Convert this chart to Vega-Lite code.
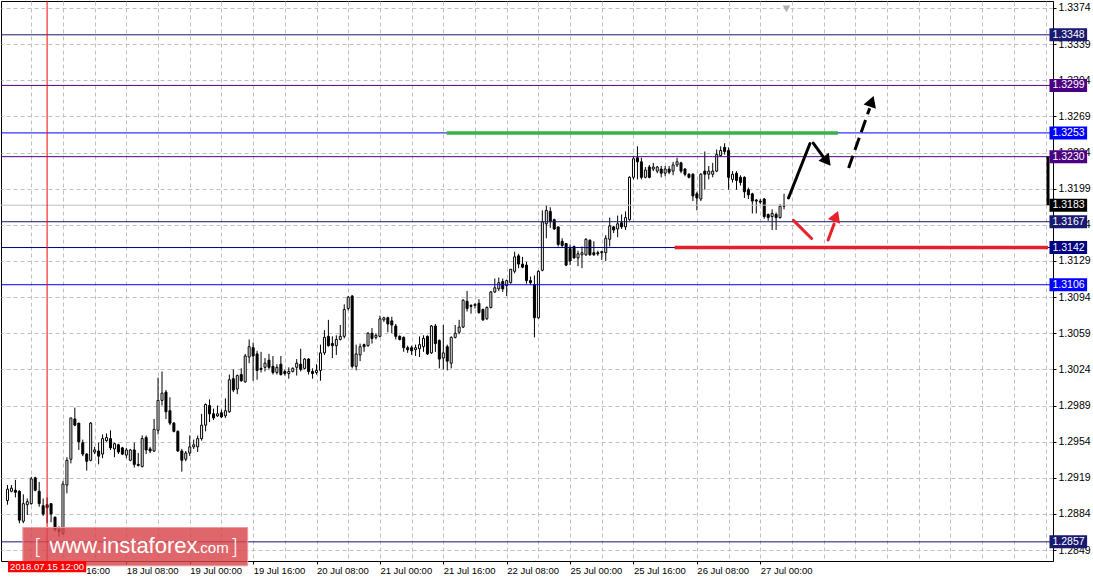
{
"$schema":"https://vega.github.io/schema/vega-lite/v6.json",
"width":1052,"height":560,"padding":0,"autosize":{"type":"pad"},"background":"white",
"config":{"view":{"stroke":"black","strokeWidth":1},"font":"Liberation Sans"},
"resolve":{"scale":{"color":"independent"}},
"datasets":{
"candles":[
{"i":0,"o":1.2897,"h":1.2912,"l":1.2893,"c":1.2908},{"i":1,"o":1.2906,"h":1.2912,"l":1.2905,"c":1.2909},{"i":2,"o":1.2907,"h":1.2917,"l":1.29,"c":1.2905},{"i":3,"o":1.2906,"h":1.2907,"l":1.2875,"c":1.2878},{"i":4,"o":1.2877,"h":1.2903,"l":1.2875,"c":1.2894},{"i":5,"o":1.2893,"h":1.2899,"l":1.2883,"c":1.2896},{"i":6,"o":1.2894,"h":1.292,"l":1.2893,"c":1.2918},{"i":7,"o":1.2919,"h":1.292,"l":1.2906,"c":1.2907},{"i":8,"o":1.2906,"h":1.2915,"l":1.2891,"c":1.2894},{"i":9,"o":1.2892,"h":1.2899,"l":1.2882,"c":1.2884},
{"i":10,"o":1.2893,"h":1.29,"l":1.2875,"c":1.289},{"i":11,"o":1.2894,"h":1.2894,"l":1.2876,"c":1.2884},{"i":12,"o":1.2881,"h":1.2881,"l":1.2867,"c":1.2869},{"i":13,"o":1.2869,"h":1.2872,"l":1.2862,"c":1.2867},{"i":14,"o":1.2865,"h":1.2916,"l":1.2864,"c":1.2913},{"i":15,"o":1.2912,"h":1.2939,"l":1.2904,"c":1.2936},{"i":16,"o":1.2937,"h":1.2977,"l":1.2933,"c":1.2977},{"i":17,"o":1.2976,"h":1.2987,"l":1.2969,"c":1.297},{"i":18,"o":1.2972,"h":1.2972,"l":1.2946,"c":1.2954},{"i":19,"o":1.2953,"h":1.2956,"l":1.294,"c":1.2942},
{"i":20,"o":1.2942,"h":1.2943,"l":1.2926,"c":1.2935},{"i":21,"o":1.2936,"h":1.2973,"l":1.2935,"c":1.2972},{"i":22,"o":1.2944,"h":1.2949,"l":1.2942,"c":1.2946},{"i":23,"o":1.2945,"h":1.2953,"l":1.2932,"c":1.294},{"i":24,"o":1.2942,"h":1.2961,"l":1.2938,"c":1.2957},{"i":25,"o":1.2955,"h":1.2962,"l":1.2954,"c":1.2958},{"i":26,"o":1.2957,"h":1.2965,"l":1.2946,"c":1.2948},{"i":27,"o":1.2947,"h":1.2953,"l":1.2939,"c":1.2952},{"i":28,"o":1.2951,"h":1.2952,"l":1.2942,"c":1.2944},{"i":29,"o":1.2948,"h":1.2949,"l":1.2941,"c":1.2942},
{"i":30,"o":1.2941,"h":1.2948,"l":1.2938,"c":1.2946},{"i":31,"o":1.2936,"h":1.2947,"l":1.2935,"c":1.2946},{"i":32,"o":1.2946,"h":1.2953,"l":1.2929,"c":1.2932},{"i":33,"o":1.2932,"h":1.2943,"l":1.293,"c":1.2931},{"i":34,"o":1.293,"h":1.296,"l":1.2929,"c":1.2957},{"i":35,"o":1.2958,"h":1.296,"l":1.2942,"c":1.2946},{"i":36,"o":1.2947,"h":1.2949,"l":1.2943,"c":1.2945},{"i":37,"o":1.2945,"h":1.2976,"l":1.2944,"c":1.2966},{"i":38,"o":1.2965,"h":1.3016,"l":1.2961,"c":1.2994},{"i":39,"o":1.2994,"h":1.3022,"l":1.2989,"c":1.3001},
{"i":40,"o":1.3002,"h":1.3004,"l":1.2976,"c":1.2983},{"i":41,"o":1.2984,"h":1.2997,"l":1.297,"c":1.2972},{"i":42,"o":1.2972,"h":1.2973,"l":1.2963,"c":1.2964},{"i":43,"o":1.2964,"h":1.2965,"l":1.2944,"c":1.2945},{"i":44,"o":1.2945,"h":1.2947,"l":1.2925,"c":1.2936},{"i":45,"o":1.2937,"h":1.2945,"l":1.2935,"c":1.2943},{"i":46,"o":1.2943,"h":1.296,"l":1.294,"c":1.2949},{"i":47,"o":1.2949,"h":1.2956,"l":1.2947,"c":1.2951},{"i":48,"o":1.2949,"h":1.296,"l":1.2944,"c":1.2957},{"i":49,"o":1.2957,"h":1.2981,"l":1.2955,"c":1.297},
{"i":50,"o":1.297,"h":1.2991,"l":1.2964,"c":1.299},{"i":51,"o":1.2989,"h":1.2995,"l":1.2973,"c":1.2981},{"i":52,"o":1.2981,"h":1.2986,"l":1.2975,"c":1.2977},{"i":53,"o":1.2979,"h":1.2989,"l":1.2978,"c":1.2981},{"i":54,"o":1.2982,"h":1.2985,"l":1.2977,"c":1.2978},{"i":55,"o":1.2979,"h":1.2996,"l":1.2977,"c":1.2984},{"i":56,"o":1.2983,"h":1.3019,"l":1.2982,"c":1.3014},{"i":57,"o":1.3015,"h":1.3024,"l":1.3002,"c":1.3004},{"i":58,"o":1.3005,"h":1.3019,"l":1.3,"c":1.3018},{"i":59,"o":1.3019,"h":1.3025,"l":1.3012,"c":1.3013},
{"i":60,"o":1.3012,"h":1.3039,"l":1.3011,"c":1.3037},{"i":61,"o":1.3036,"h":1.3053,"l":1.303,"c":1.3046},{"i":62,"o":1.3045,"h":1.305,"l":1.3013,"c":1.3037},{"i":63,"o":1.3039,"h":1.3042,"l":1.3014,"c":1.3023},{"i":64,"o":1.3025,"h":1.3041,"l":1.3021,"c":1.3024},{"i":65,"o":1.3026,"h":1.3035,"l":1.3022,"c":1.303},{"i":66,"o":1.3033,"h":1.3039,"l":1.3024,"c":1.3026},{"i":67,"o":1.3027,"h":1.3037,"l":1.3019,"c":1.3021},{"i":68,"o":1.3021,"h":1.3029,"l":1.3019,"c":1.3026},{"i":69,"o":1.3029,"h":1.3037,"l":1.3018,"c":1.3019},
{"i":70,"o":1.3022,"h":1.3024,"l":1.3018,"c":1.302},{"i":71,"o":1.302,"h":1.3026,"l":1.3015,"c":1.3022},{"i":72,"o":1.3022,"h":1.3026,"l":1.3021,"c":1.3025},{"i":73,"o":1.3026,"h":1.3034,"l":1.3018,"c":1.303},{"i":74,"o":1.3029,"h":1.3044,"l":1.3022,"c":1.3024},{"i":75,"o":1.3025,"h":1.3035,"l":1.3024,"c":1.3034},{"i":76,"o":1.3034,"h":1.3035,"l":1.3019,"c":1.3022},{"i":77,"o":1.3022,"h":1.3025,"l":1.3015,"c":1.302},{"i":78,"o":1.3021,"h":1.3029,"l":1.3019,"c":1.3023},{"i":79,"o":1.3023,"h":1.3048,"l":1.3013,"c":1.304},
{"i":80,"o":1.304,"h":1.3062,"l":1.3038,"c":1.3055},{"i":81,"o":1.3056,"h":1.3072,"l":1.3046,"c":1.3047},{"i":82,"o":1.3049,"h":1.3056,"l":1.3035,"c":1.3047},{"i":83,"o":1.3047,"h":1.3057,"l":1.3038,"c":1.3053},{"i":84,"o":1.3053,"h":1.3067,"l":1.3052,"c":1.3056},{"i":85,"o":1.3056,"h":1.3087,"l":1.3054,"c":1.3082},{"i":86,"o":1.3083,"h":1.3095,"l":1.3081,"c":1.3094},{"i":87,"o":1.3095,"h":1.3096,"l":1.3025,"c":1.3027},{"i":88,"o":1.3027,"h":1.3048,"l":1.3023,"c":1.3039},{"i":89,"o":1.3038,"h":1.3049,"l":1.3032,"c":1.3046},
{"i":90,"o":1.3048,"h":1.3049,"l":1.3041,"c":1.3046},{"i":91,"o":1.3047,"h":1.306,"l":1.3046,"c":1.3059},{"i":92,"o":1.3059,"h":1.3064,"l":1.3049,"c":1.3054},{"i":93,"o":1.3055,"h":1.3059,"l":1.3053,"c":1.3057},{"i":94,"o":1.3056,"h":1.3076,"l":1.3055,"c":1.3073},{"i":95,"o":1.3072,"h":1.3075,"l":1.307,"c":1.3074},{"i":96,"o":1.3074,"h":1.3075,"l":1.306,"c":1.3068},{"i":97,"o":1.3071,"h":1.3075,"l":1.3059,"c":1.3067},{"i":98,"o":1.3066,"h":1.3068,"l":1.3053,"c":1.3056},{"i":99,"o":1.3056,"h":1.3057,"l":1.3052,"c":1.3053},
{"i":100,"o":1.3055,"h":1.3056,"l":1.3041,"c":1.3045},{"i":101,"o":1.3045,"h":1.3047,"l":1.304,"c":1.3043},{"i":102,"o":1.3045,"h":1.3047,"l":1.3038,"c":1.3042},{"i":103,"o":1.3043,"h":1.3048,"l":1.3037,"c":1.3045},{"i":104,"o":1.3044,"h":1.3056,"l":1.3036,"c":1.3048},{"i":105,"o":1.3046,"h":1.3057,"l":1.3041,"c":1.3054},{"i":106,"o":1.3056,"h":1.3057,"l":1.3038,"c":1.3039},{"i":107,"o":1.304,"h":1.3067,"l":1.3039,"c":1.3066},{"i":108,"o":1.3066,"h":1.3068,"l":1.3041,"c":1.3049},{"i":109,"o":1.3052,"h":1.3053,"l":1.3025,"c":1.3034},
{"i":110,"o":1.3035,"h":1.3067,"l":1.3024,"c":1.304},{"i":111,"o":1.3046,"h":1.3048,"l":1.3023,"c":1.3032},{"i":112,"o":1.303,"h":1.3056,"l":1.3025,"c":1.3055},{"i":113,"o":1.3055,"h":1.3067,"l":1.3054,"c":1.3059},{"i":114,"o":1.306,"h":1.3072,"l":1.3058,"c":1.3065},{"i":115,"o":1.3065,"h":1.3092,"l":1.3064,"c":1.3091},{"i":116,"o":1.309,"h":1.31,"l":1.308,"c":1.3083},{"i":117,"o":1.3086,"h":1.3087,"l":1.3078,"c":1.3085},{"i":118,"o":1.3086,"h":1.3088,"l":1.3083,"c":1.3087},{"i":119,"o":1.3088,"h":1.3092,"l":1.3078,"c":1.3079},
{"i":120,"o":1.3082,"h":1.3083,"l":1.3071,"c":1.3072},{"i":121,"o":1.3073,"h":1.3085,"l":1.3072,"c":1.3084},{"i":122,"o":1.3084,"h":1.31,"l":1.3083,"c":1.3099},{"i":123,"o":1.3099,"h":1.3112,"l":1.3098,"c":1.3103},{"i":124,"o":1.3102,"h":1.3113,"l":1.31,"c":1.3108},{"i":125,"o":1.3109,"h":1.3112,"l":1.3099,"c":1.3102},{"i":126,"o":1.3105,"h":1.3111,"l":1.3095,"c":1.311},{"i":127,"o":1.3108,"h":1.3121,"l":1.3107,"c":1.3121},{"i":128,"o":1.3119,"h":1.3138,"l":1.3117,"c":1.3133},{"i":129,"o":1.3134,"h":1.3136,"l":1.3122,"c":1.3126},
{"i":130,"o":1.3126,"h":1.3133,"l":1.3122,"c":1.3123},{"i":131,"o":1.3125,"h":1.3128,"l":1.3107,"c":1.311},{"i":132,"o":1.311,"h":1.3114,"l":1.3106,"c":1.3108},{"i":133,"o":1.3106,"h":1.3115,"l":1.3055,"c":1.3074},{"i":134,"o":1.3074,"h":1.312,"l":1.3073,"c":1.3119},{"i":135,"o":1.312,"h":1.3178,"l":1.3119,"c":1.3167},{"i":136,"o":1.3165,"h":1.3183,"l":1.3151,"c":1.3178},{"i":137,"o":1.3177,"h":1.3181,"l":1.3161,"c":1.3167},{"i":138,"o":1.3169,"h":1.317,"l":1.3159,"c":1.316},{"i":139,"o":1.3162,"h":1.3162,"l":1.3143,"c":1.3145},
{"i":140,"o":1.3148,"h":1.3151,"l":1.3142,"c":1.3144},{"i":141,"o":1.3146,"h":1.3146,"l":1.3124,"c":1.3125},{"i":142,"o":1.3141,"h":1.3145,"l":1.3125,"c":1.3129},{"i":143,"o":1.3143,"h":1.3144,"l":1.3131,"c":1.3132},{"i":144,"o":1.3132,"h":1.3139,"l":1.3124,"c":1.3136},{"i":145,"o":1.3135,"h":1.3143,"l":1.3122,"c":1.3137},{"i":146,"o":1.3135,"h":1.3151,"l":1.3134,"c":1.315},{"i":147,"o":1.3149,"h":1.315,"l":1.3134,"c":1.3135},{"i":148,"o":1.3137,"h":1.3148,"l":1.3134,"c":1.3135},{"i":149,"o":1.3137,"h":1.3139,"l":1.3134,"c":1.3136},
{"i":150,"o":1.3138,"h":1.3139,"l":1.313,"c":1.3137},{"i":151,"o":1.3137,"h":1.3154,"l":1.3129,"c":1.3151},{"i":152,"o":1.315,"h":1.3171,"l":1.3143,"c":1.3163},{"i":153,"o":1.3162,"h":1.3163,"l":1.3156,"c":1.3159},{"i":154,"o":1.316,"h":1.3173,"l":1.3152,"c":1.3165},{"i":155,"o":1.3166,"h":1.3174,"l":1.316,"c":1.3162},{"i":156,"o":1.3162,"h":1.3177,"l":1.3159,"c":1.3171},{"i":157,"o":1.3169,"h":1.3211,"l":1.3168,"c":1.321},{"i":158,"o":1.321,"h":1.323,"l":1.3208,"c":1.3228},{"i":159,"o":1.3229,"h":1.324,"l":1.3208,"c":1.3225},
{"i":160,"o":1.3225,"h":1.3229,"l":1.3208,"c":1.321},{"i":161,"o":1.321,"h":1.322,"l":1.3209,"c":1.3217},{"i":162,"o":1.322,"h":1.3222,"l":1.3209,"c":1.321},{"i":163,"o":1.3218,"h":1.3224,"l":1.3216,"c":1.322},{"i":164,"o":1.3216,"h":1.3221,"l":1.3214,"c":1.322},{"i":165,"o":1.3218,"h":1.3221,"l":1.321,"c":1.3214},{"i":166,"o":1.3214,"h":1.3221,"l":1.3211,"c":1.3218},{"i":167,"o":1.3218,"h":1.3221,"l":1.3213,"c":1.3215},{"i":168,"o":1.3216,"h":1.3225,"l":1.3212,"c":1.3222},{"i":169,"o":1.3222,"h":1.3229,"l":1.322,"c":1.3225},
{"i":170,"o":1.3224,"h":1.3225,"l":1.3214,"c":1.3216},{"i":171,"o":1.3218,"h":1.3219,"l":1.3211,"c":1.3213},{"i":172,"o":1.3213,"h":1.3214,"l":1.3209,"c":1.321},{"i":173,"o":1.3213,"h":1.3214,"l":1.3187,"c":1.3192},{"i":174,"o":1.3194,"h":1.3196,"l":1.3178,"c":1.319},{"i":175,"o":1.3189,"h":1.3214,"l":1.3187,"c":1.3213},{"i":176,"o":1.3216,"h":1.3235,"l":1.3198,"c":1.3213},{"i":177,"o":1.3213,"h":1.3221,"l":1.3208,"c":1.3216},{"i":178,"o":1.3213,"h":1.3224,"l":1.321,"c":1.3216},{"i":179,"o":1.3216,"h":1.3237,"l":1.3215,"c":1.3232},
{"i":180,"o":1.3231,"h":1.324,"l":1.323,"c":1.3236},{"i":181,"o":1.3239,"h":1.3243,"l":1.3232,"c":1.3235},{"i":182,"o":1.3236,"h":1.3239,"l":1.3198,"c":1.321},{"i":183,"o":1.3208,"h":1.3216,"l":1.3205,"c":1.3213},{"i":184,"o":1.3214,"h":1.3216,"l":1.3198,"c":1.3207},{"i":185,"o":1.321,"h":1.3212,"l":1.3202,"c":1.3205},{"i":186,"o":1.321,"h":1.3211,"l":1.319,"c":1.3196},{"i":187,"o":1.3198,"h":1.32,"l":1.3189,"c":1.3193},{"i":188,"o":1.3194,"h":1.3195,"l":1.3175,"c":1.3187},{"i":189,"o":1.3188,"h":1.3189,"l":1.3175,"c":1.3187},
{"i":190,"o":1.3187,"h":1.3189,"l":1.3184,"c":1.3186},{"i":191,"o":1.3189,"h":1.319,"l":1.317,"c":1.3172},{"i":192,"o":1.3174,"h":1.3175,"l":1.3168,"c":1.3171},{"i":193,"o":1.3172,"h":1.3179,"l":1.3159,"c":1.3175},{"i":194,"o":1.3174,"h":1.3176,"l":1.3159,"c":1.3171},{"i":195,"o":1.3171,"h":1.3184,"l":1.317,"c":1.3182},{"i":196,"o":1.3182,"h":1.3194,"l":1.3179,"c":1.3183}
],
"levels":[{"price":1.3348},{"price":1.3299},{"price":1.3253},{"price":1.323},{"price":1.3167},{"price":1.3142},{"price":1.3106},{"price":1.2857}],
"current":[{"price":1.3183}],
"zones":[{"x1":110.875,"x2":209.625,"price":1.3253,"kind":"resistance"},{"x1":168.375,"x2":262.625,"price":1.3142,"kind":"support"}],
"blackSegs":[{"x1":197.125,"y1":1.319,"x2":202.55,"y2":1.32427},{"x1":203.375,"y1":1.32432,"x2":206.125,"y2":1.32285}],
"blackDash":[{"x1":212.3,"y1":1.3219,"x2":217.625,"y2":1.3277}],
"redSegs":[{"x1":198.375,"y1":1.31683,"x2":202.95,"y2":1.31508},{"x1":207.125,"y1":1.31493,"x2":208.625,"y2":1.31648}]
},
"layer":[
{"data":{"name":"candles"},"mark":{"type":"rule","color":"black","strokeWidth":1},
 "encoding":{
  "x":{"field":"i","type":"quantitative","title":null,"scale":{"domain":[-0.375,262.625],"nice":false,"zero":false},
   "axis":{"orient":"bottom","title":null,"tickCount":200,"values":[6,14,19.75,22,30,38,46,54,62,70,78,86,94,102,110,118,126,134,142,150,158,166,174,182,190,198,206,214,222,230,238,246,254,262],
    "grid":true,"gridColor":"#c0c0c0","gridDash":[4,3],"gridWidth":1,"gridOpacity":{"condition":{"test":"datum.value === 19.75","value":0},"value":1},"domain":false,
    "tickSize":3,"tickColor":"black","tickOpacity":{"condition":{"test":"(datum.value - 14) % 16 === 0 && datum.value <= 190","value":1},"value":0},
    "labelExpr":"datum.value === 19.75 ? '16:00' : datum.value === 30 ? '18 Jul 08:00' : datum.value === 46 ? '19 Jul 00:00' : datum.value === 62 ? '19 Jul 16:00' : datum.value === 78 ? '20 Jul 08:00' : datum.value === 94 ? '21 Jul 00:00' : datum.value === 110 ? '21 Jul 16:00' : datum.value === 126 ? '22 Jul 08:00' : datum.value === 142 ? '25 Jul 00:00' : datum.value === 158 ? '25 Jul 16:00' : datum.value === 174 ? '26 Jul 08:00' : datum.value === 190 ? '27 Jul 00:00' : ''",
    "labelAlign":"left","labelBaseline":"top","labelPadding":1,"labelFontSize":9.5,"labelFont":"Liberation Sans","labelColor":"black","labelOverlap":false,"labelFlush":false}},
  "y":{"field":"l","type":"quantitative","title":null,"scale":{"domain":[1.28433,1.33759],"nice":false,"zero":false},
   "axis":{"orient":"right","title":null,"tickCount":200,"values":[1.2849,1.2884,1.2919,1.2954,1.2989,1.3024,1.3059,1.3094,1.3129,1.3164,1.3199,1.3234,1.3269,1.3304,1.3339,1.3374],
    "format":".4f","grid":true,"gridColor":"#c0c0c0","gridDash":[4,3],"gridWidth":1,"domain":true,"domainColor":"black",
    "tickSize":3,"tickColor":"black","labelPadding":2,"labelFontSize":10.5,"labelFont":"Liberation Sans","labelColor":"black","labelOverlap":false,"labelFlush":false}},
  "y2":{"field":"h"}}},
{"data":{"name":"candles"},"mark":{"type":"bar","width":2,"stroke":"black","strokeWidth":1},
 "encoding":{
  "x":{"field":"i","type":"quantitative","title":null,"scale":{"domain":[-0.375,262.625],"nice":false,"zero":false}},
  "y":{"field":"o","type":"quantitative","title":null,"scale":{"domain":[1.28433,1.33759],"nice":false,"zero":false}},
  "y2":{"field":"c"},
  "fill":{"condition":{"test":"datum.c >= datum.o","value":"white"},"value":"black"}}},
{"data":{"name":"levels"},"mark":{"type":"rule","strokeWidth":1},
 "encoding":{
  "y":{"field":"price","type":"quantitative","title":null,"scale":{"domain":[1.28433,1.33759],"nice":false,"zero":false}},
  "color":{"field":"price","type":"nominal","legend":null,"scale":{"domain":[1.3348,1.3299,1.3253,1.323,1.3167,1.3142,1.3106,1.2857],"range":["#191970","#4b0082","#0000ff","#4b0082","#191970","#000080","#0000ff","#191970"]}}}},
{"data":{"name":"current"},"mark":{"type":"rule","strokeWidth":1,"color":"#c0c0c0"},
 "encoding":{"y":{"field":"price","type":"quantitative","title":null,"scale":{"domain":[1.28433,1.33759],"nice":false,"zero":false}}}},
{"data":{"name":"zones"},"mark":{"type":"rule","strokeWidth":3.5},
 "encoding":{
  "x":{"field":"x1","type":"quantitative","title":null,"scale":{"domain":[-0.375,262.625],"nice":false,"zero":false}},
  "x2":{"field":"x2"},
  "y":{"field":"price","type":"quantitative","title":null,"scale":{"domain":[1.28433,1.33759],"nice":false,"zero":false}},
  "color":{"field":"kind","type":"nominal","legend":null,"scale":{"domain":["resistance","support"],"range":["#35b24a","#e3202c"]}}}},
{"data":{"name":"blackSegs"},"mark":{"type":"rule","strokeWidth":3,"color":"black","strokeCap":"round"},
 "encoding":{
  "x":{"field":"x1","type":"quantitative","title":null,"scale":{"domain":[-0.375,262.625],"nice":false,"zero":false}},
  "x2":{"field":"x2"},
  "y":{"field":"y1","type":"quantitative","title":null,"scale":{"domain":[1.28433,1.33759],"nice":false,"zero":false}},
  "y2":{"field":"y2"}}},
{"data":{"name":"blackDash"},"mark":{"type":"rule","strokeWidth":3,"color":"black","strokeDash":[13,6]},
 "encoding":{
  "x":{"field":"x1","type":"quantitative","title":null,"scale":{"domain":[-0.375,262.625],"nice":false,"zero":false}},
  "x2":{"field":"x2"},
  "y":{"field":"y1","type":"quantitative","title":null,"scale":{"domain":[1.28433,1.33759],"nice":false,"zero":false}},
  "y2":{"field":"y2"}}},
{"data":{"name":"redSegs"},"mark":{"type":"rule","strokeWidth":3,"color":"#e8202a","strokeCap":"round"},
 "encoding":{
  "x":{"field":"x1","type":"quantitative","title":null,"scale":{"domain":[-0.375,262.625],"nice":false,"zero":false}},
  "x2":{"field":"x2"},
  "y":{"field":"y1","type":"quantitative","title":null,"scale":{"domain":[1.28433,1.33759],"nice":false,"zero":false}},
  "y2":{"field":"y2"}}},
{"data":{"values":[{"x":206.875,"y":1.32256}]},"mark":{"type":"point","shape":"triangle-up","filled":true,"size":170,"angle":142,"color":"black","opacity":1},
 "encoding":{"x":{"field":"x","type":"quantitative","title":null,"scale":{"domain":[-0.375,262.625],"nice":false,"zero":false}},"y":{"field":"y","type":"quantitative","title":null,"scale":{"domain":[1.28433,1.33759],"nice":false,"zero":false}}}},
{"data":{"values":[{"x":218.125,"y":1.32836}]},"mark":{"type":"point","shape":"triangle-up","filled":true,"size":170,"angle":20,"color":"black","opacity":1},
 "encoding":{"x":{"field":"x","type":"quantitative","title":null,"scale":{"domain":[-0.375,262.625],"nice":false,"zero":false}},"y":{"field":"y","type":"quantitative","title":null,"scale":{"domain":[1.28433,1.33759],"nice":false,"zero":false}}}},
{"data":{"values":[{"x":209.125,"y":1.31724}]},"mark":{"type":"point","shape":"triangle-up","filled":true,"size":170,"angle":21,"color":"#e8202a","opacity":1},
 "encoding":{"x":{"field":"x","type":"quantitative","title":null,"scale":{"domain":[-0.375,262.625],"nice":false,"zero":false}},"y":{"field":"y","type":"quantitative","title":null,"scale":{"domain":[1.28433,1.33759],"nice":false,"zero":false}}}},
{"data":{"values":[{"x":196.625,"y":1.33731}]},"mark":{"type":"point","shape":"triangle-down","filled":true,"size":60,"color":"#b0b0b0","opacity":1},
 "encoding":{"x":{"field":"x","type":"quantitative","title":null,"scale":{"domain":[-0.375,262.625],"nice":false,"zero":false}},"y":{"field":"y","type":"quantitative","title":null,"scale":{"domain":[1.28433,1.33759],"nice":false,"zero":false}}}},
{"data":{"values":[{"x":10}]},"mark":{"type":"rule","color":"#ff0000","strokeWidth":1},
 "encoding":{"x":{"field":"x","type":"quantitative","title":null,"scale":{"domain":[-0.375,262.625],"nice":false,"zero":false}}}},
{"data":{"values":[{"y1":1.323,"y2":1.3183}]},"mark":{"type":"rule","color":"black","strokeWidth":3,"clip":false},
 "encoding":{"x":{"datum":262.625,"type":"quantitative","scale":{"domain":[-0.375,262.625],"nice":false,"zero":false}},
  "y":{"field":"y1","type":"quantitative","title":null,"scale":{"domain":[1.28433,1.33759],"nice":false,"zero":false}},"y2":{"field":"y2"}}},
{"data":{"name":"levels"},"mark":{"type":"bar","orient":"horizontal","height":13,"clip":false},
 "encoding":{
  "x":{"datum":263,"type":"quantitative","scale":{"domain":[-0.375,262.625],"nice":false,"zero":false}},
  "x2":{"datum":272.5},
  "y":{"field":"price","type":"quantitative","title":null,"scale":{"domain":[1.28433,1.33759],"nice":false,"zero":false}},
  "color":{"field":"price","type":"nominal","legend":null,"scale":{"domain":[1.3348,1.3299,1.3253,1.323,1.3167,1.3142,1.3106,1.2857],"range":["#191970","#4b0082","#0000ff","#4b0082","#191970","#000080","#0000ff","#191970"]}}}},
{"data":{"name":"current"},"mark":{"type":"bar","orient":"horizontal","height":13,"clip":false,"color":"black"},
 "encoding":{
  "x":{"datum":263,"type":"quantitative","scale":{"domain":[-0.375,262.625],"nice":false,"zero":false}},
  "x2":{"datum":272.5},
  "y":{"field":"price","type":"quantitative","title":null,"scale":{"domain":[1.28433,1.33759],"nice":false,"zero":false}}}},
{"data":{"name":"levels"},"mark":{"type":"text","align":"left","baseline":"middle","color":"white","fontSize":10.5,"font":"Liberation Sans","clip":false},
 "encoding":{
  "x":{"datum":263.75,"type":"quantitative","scale":{"domain":[-0.375,262.625],"nice":false,"zero":false}},
  "y":{"field":"price","type":"quantitative","title":null,"scale":{"domain":[1.28433,1.33759],"nice":false,"zero":false}},
  "text":{"field":"price","type":"quantitative","format":".4f"}}},
{"data":{"name":"current"},"mark":{"type":"text","align":"left","baseline":"middle","color":"white","fontSize":10.5,"font":"Liberation Sans","clip":false},
 "encoding":{
  "x":{"datum":263.75,"type":"quantitative","scale":{"domain":[-0.375,262.625],"nice":false,"zero":false}},
  "y":{"field":"price","type":"quantitative","title":null,"scale":{"domain":[1.28433,1.33759],"nice":false,"zero":false}},
  "text":{"field":"price","type":"quantitative","format":".4f"}}},
{"data":{"values":[{"x1":3.875,"x2":60.625,"y1":1.28709,"y2":1.28338}]},"mark":{"type":"rect","fill":"#d8454b","fillOpacity":0.82,"stroke":"#ee9a9c","strokeWidth":1,"clip":false},
 "encoding":{
  "x":{"field":"x1","type":"quantitative","title":null,"scale":{"domain":[-0.375,262.625],"nice":false,"zero":false}},"x2":{"field":"x2"},
  "y":{"field":"y1","type":"quantitative","title":null,"scale":{"domain":[1.28433,1.33759],"nice":false,"zero":false}},"y2":{"field":"y2"}}},
{"data":{"values":[{"t":"[","x":6.625},{"t":"]","x":56.125}]},"mark":{"type":"text","align":"left","baseline":"alphabetic","color":"white","fontSize":22,"font":"DejaVu Sans","fontWeight":200,"clip":false},
 "encoding":{
  "x":{"field":"x","type":"quantitative","title":null,"scale":{"domain":[-0.375,262.625],"nice":false,"zero":false}},
  "y":{"datum":1.28451,"type":"quantitative","scale":{"domain":[1.28433,1.33759],"nice":false,"zero":false}},
  "text":{"field":"t"}}},
{"data":{"values":[{"t":"www.instaforex"}]},"mark":{"type":"text","align":"left","baseline":"alphabetic","color":"white","fontSize":22,"font":"Liberation Sans","clip":false},
 "encoding":{
  "x":{"datum":10.625,"type":"quantitative","scale":{"domain":[-0.375,262.625],"nice":false,"zero":false}},
  "y":{"datum":1.28461,"type":"quantitative","scale":{"domain":[1.28433,1.33759],"nice":false,"zero":false}},
  "text":{"field":"t"}}},
{"data":{"values":[{"t":".com"}]},"mark":{"type":"text","align":"left","baseline":"alphabetic","color":"white","fontSize":15,"font":"Liberation Sans","clip":false},
 "encoding":{
  "x":{"datum":47.625,"type":"quantitative","scale":{"domain":[-0.375,262.625],"nice":false,"zero":false}},
  "y":{"datum":1.28461,"type":"quantitative","scale":{"domain":[1.28433,1.33759],"nice":false,"zero":false}},
  "text":{"field":"t"}}},
{"data":{"values":[{"x1":0.125,"x2":19.875,"y1":1.28385,"y2":1.28276}]},"mark":{"type":"rect","fill":"#ff0000","clip":false},
 "encoding":{
  "x":{"field":"x1","type":"quantitative","title":null,"scale":{"domain":[-0.375,262.625],"nice":false,"zero":false}},"x2":{"field":"x2"},
  "y":{"field":"y1","type":"quantitative","title":null,"scale":{"domain":[1.28433,1.33759],"nice":false,"zero":false}},"y2":{"field":"y2"}}},
{"data":{"values":[{"t":"2018.07.15 12:00"}]},"mark":{"type":"text","align":"center","baseline":"middle","color":"white","fontSize":9.5,"font":"Liberation Sans","clip":false},
 "encoding":{
  "x":{"datum":10,"type":"quantitative","scale":{"domain":[-0.375,262.625],"nice":false,"zero":false}},
  "y":{"datum":1.28331,"type":"quantitative","scale":{"domain":[1.28433,1.33759],"nice":false,"zero":false}},
  "text":{"field":"t"}}}
]
}
